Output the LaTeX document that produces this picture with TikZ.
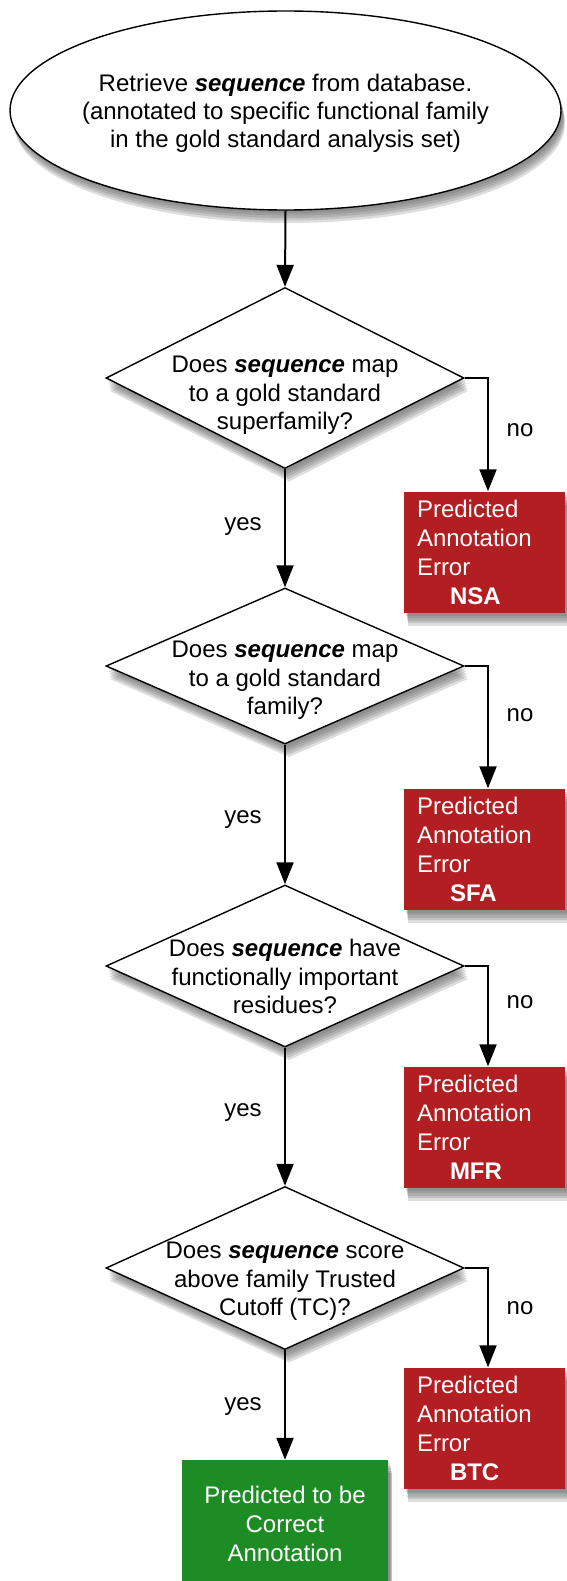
\documentclass[tikz,border=0pt]{standalone}
\usepackage{fontspec}
\setmainfont{Liberation Sans}
\usetikzlibrary{arrows.meta,shapes.geometric}

\definecolor{errred}{RGB}{178,30,34}
\definecolor{okgreen}{RGB}{30,140,36}
\definecolor{shadowgray}{RGB}{90,90,90}

\newcommand{\seqword}{\textbf{\textit{sequence}}}
% text in a zero-size box so the shape keeps its given size
\newcommand{\shapelines}[2]{\raisebox{#1}[0pt][0pt]{\makebox[0pt]{\begin{tabular}{@{}c@{}}#2\end{tabular}}}}

\tikzset{
  startnode/.style={ellipse,draw,line width=1.4pt,fill=white,
    minimum width=551pt,minimum height=199pt,inner sep=0pt,
    font=\fontsize{24}{28}\selectfont},
  question/.style={diamond,draw,line width=1.4pt,fill=white,
    minimum width=358pt,inner sep=0pt,font=\fontsize{24}{28.5}\selectfont},
  errbox/.style={rectangle,fill=errred,text=white,
    minimum width=161pt,minimum height=121pt,text width=135pt,
    inner xsep=13pt,inner ysep=0pt,align=left,font=\fontsize{24}{29}\selectfont},
  okbox/.style={rectangle,fill=okgreen,text=white,
    minimum width=206pt,minimum height=128pt,inner sep=0pt,align=center,
    font=\fontsize{24}{29}\selectfont},
  arr/.style={line width=2pt,-{Triangle[length=22pt,width=17pt]}},
  lbl/.style={font=\fontsize{24}{28}\selectfont},
  shadowfill/.style={fill=shadowgray,fill opacity=#1}
}

\begin{document}
\begin{tikzpicture}[x=1pt,y=-1pt]
  \useasboundingbox (0,0) rectangle (567,1581);

  % soft drop shadows first, shapes go on top
  \foreach \dx/\dy in {4/13,3.5/10.5,3/8,2.5/5.5,2/3} {
    \path[shadowfill=0.2] (285.5+\dx,110.5+\dy) ellipse [x radius=275.5,y radius=99.5];
    \foreach \cy/\hh in {378/181,666/156,966/162,1268/163}
      \path[shadowfill=0.2] (285+\dx,\cy-\hh/2+\dy) -- (464+\dx,\cy+\dy)
        -- (285+\dx,\cy+\hh/2+\dy) -- (106+\dx,\cy+\dy) -- cycle;
    \foreach \cy in {552,849,1127,1428}
      \path[shadowfill=0.2] (404+\dx,\cy-60.5+\dy) rectangle (565+\dx,\cy+60.5+\dy);
    \path[shadowfill=0.2] (182+\dx,1460+\dy) rectangle (388+\dx,1588+\dy);
  }

  % start
  \node[startnode] (start) at (285.5,110.5)
    {\shapelines{-10pt}{Retrieve \seqword{} from database.\\(annotated to specific functional family\\in the gold standard analysis set)}};

  % questions
  \node[question,minimum height=181pt] (q1) at (285,378)
    {\shapelines{-24pt}{Does \seqword{} map\\to a gold standard\\superfamily?}};
  \node[question,minimum height=156pt] (q2) at (285,666)
    {\shapelines{-21pt}{Does \seqword{} map\\to a gold standard\\family?}};
  \node[question,minimum height=162pt] (q3) at (285,966)
    {\shapelines{-20pt}{Does \seqword{} have\\functionally important\\residues?}};
  \node[question,minimum height=163pt] (q4) at (285,1268)
    {\shapelines{-20pt}{Does \seqword{} score\\above family Trusted\\Cutoff (TC)?}};

  % error boxes
  \node[errbox] (e1) at (484.5,552)  {Predicted\\Annotation\\Error\\\hspace*{33pt}\textbf{NSA}};
  \node[errbox] (e2) at (484.5,849)  {Predicted\\Annotation\\Error\\\hspace*{33pt}\textbf{SFA}};
  \node[errbox] (e3) at (484.5,1127) {Predicted\\Annotation\\Error\\\hspace*{33pt}\textbf{MFR}};
  \node[errbox] (e4) at (484.5,1428) {Predicted\\Annotation\\Error\\\hspace*{33pt}\textbf{BTC}};

  % result
  \node[okbox] (ok) at (285,1524) {Predicted to be\\Correct\\Annotation};

  % connectors
  \draw[arr] (start.south) -- (q1.north);
  \draw[arr] (q1.south) -- (q2.north);
  \draw[arr] (q2.south) -- (q3.north);
  \draw[arr] (q3.south) -- (q4.north);
  \draw[arr] (q4.south) -- (ok.north);
  \foreach \q/\e in {q1/e1,q2/e2,q3/e3,q4/e4}
    \draw[arr] (\q.east) -| ([xshift=3.5pt]\e.north);

  % branch labels
  \foreach \i/\y in {1/527,2/820,3/1113,4/1407}
    \node[lbl] (yes\i) at (243,\y) {yes};
  \foreach \i/\y in {1/430,2/715,3/1002,4/1308}
    \node[lbl] (no\i) at (520,\y) {no};
\end{tikzpicture}
\end{document}
